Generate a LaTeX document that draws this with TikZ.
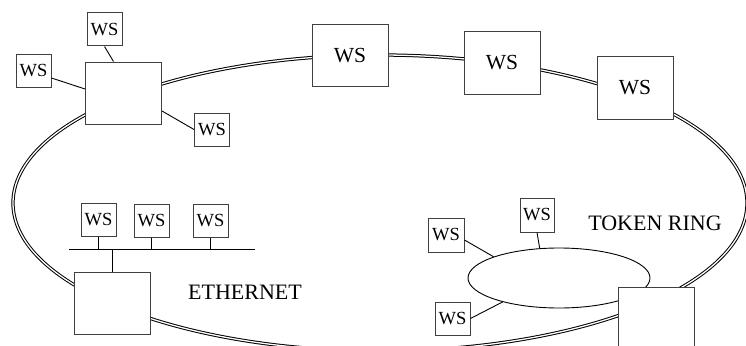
\documentclass[tikz,border=0pt]{standalone}
\usepackage{fontspec}
\setmainfont{Liberation Serif}
\usetikzlibrary{shapes.geometric}
\begin{document}
\begin{tikzpicture}[x=1pt,y=-1pt,
  box/.style={draw=black!75,line width=1pt,fill=white,rectangle,inner sep=0pt},
  smallws/.style={box,minimum width=35pt,minimum height=33pt,font=\fontsize{18.5}{18.5}\selectfont},
  bigws/.style={box,minimum width=76pt,minimum height=62pt,font=\fontsize{21.5}{21.5}\selectfont},
  router/.style={box,minimum width=76pt,minimum height=62pt},
  wire/.style={draw=black,line width=0.9pt},
  ring/.style={draw=black,line width=1pt,double=white,double distance=1.3pt},
  lbl/.style={font=\fontsize{22}{22}\selectfont,inner sep=0pt}]
\useasboundingbox (0,0) rectangle (746,345);
\clip (0,0) rectangle (746,345);
% backbone ring
\draw[ring] (380,203) ellipse [x radius=367pt, y radius=148pt];
% token ring ellipse
\node[ellipse,draw=black,line width=0.9pt,minimum width=182pt,minimum height=60pt,inner sep=0pt] (tr) at (559,278) {};
% top-left router and workstations
\node[router] (r1) at (123.5,93) {};
\node[smallws] (wa) at (104.5,29.5) {WS};
\node[smallws] (wb) at (33.5,71) {WS};
\node[smallws] (wc) at (212,129.5) {WS};
\draw[wire] (wa.south) -- ([xshift=-10pt]r1.north);
\draw[wire] ([yshift=-7pt]wb.east) -- ([yshift=4pt]r1.west);
\draw[wire] ([yshift=-18pt]r1.east) -- (wc.west);
% big workstations on the ring
\node[bigws] (w1) at (350,55.5) {WS};
\node[bigws] (w2) at (502,63) {WS};
\node[bigws] (w3) at (635,88) {WS};
% ethernet
\coordinate (busL) at (69,249);
\coordinate (busR) at (255,249);
\node[smallws] (e1) at (98.5,219.5) {WS};
\node[smallws] (e2) at (151.5,220.5) {WS};
\node[smallws] (e3) at (210.5,220.5) {WS};
\node[router] (r2) at (112,303) {};
\draw[wire] (busL) -- (busR);
\draw[wire] (e1.south) -- (e1.south |- busL);
\draw[wire] (e2.south) -- (e2.south |- busL);
\draw[wire] (e3.south) -- (e3.south |- busL);
\draw[wire] (r2.north) -- (r2.north |- busL);
\node[lbl] (eth) at (245,292) {ETHERNET};
% token ring
\node[smallws,minimum width=36pt,minimum height=34pt] (t1) at (446,235) {WS};
\node[smallws,minimum width=34pt,minimum height=34pt] (t2) at (537,215) {WS};
\node[smallws] (t3) at (452.5,318.5) {WS};
\draw[wire] ([yshift=-5pt]t1.east) -- (tr.162);
\draw[wire] (t2.south) -- (tr.123);
\draw[wire] (t3.east) -- (tr.203);
\node[router] (r3) at (656.5,318) {};
\node[lbl] (tok) at (655,223) {TOKEN RING};
\end{tikzpicture}
\end{document}
